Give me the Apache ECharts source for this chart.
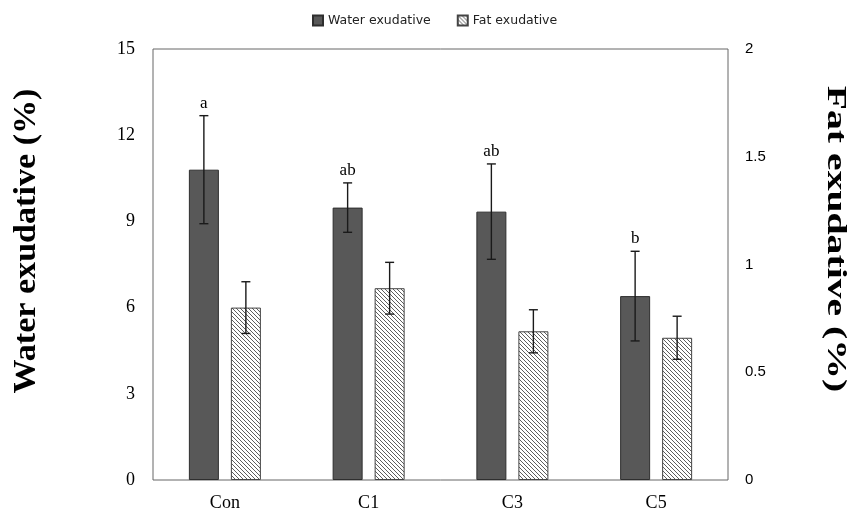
<!DOCTYPE html>
<html>
<head>
<meta charset="utf-8">
<script src="https://cdn.jsdelivr.net/npm/echarts@6/dist/echarts.min.js"></script>
<style>
html,body{margin:0;padding:0;background:#fff;}
#chart{width:850px;height:510px;}
</style>
</head>
<body>
<div id="chart"></div>
<script>
// ---- data ----
const categories = ['Con', 'C1', 'C3', 'C5'];
const waterMean = [10.8, 9.48, 9.34, 6.40];
const waterSD = [1.88, 0.86, 1.66, 1.56];
const fatMean = [0.80, 0.89, 0.69, 0.66];
const fatSD = [0.12, 0.12, 0.10, 0.10];
const letters = ['a', 'ab', 'ab', 'b'];
const leftAxis = { min: 0, max: 15, interval: 3, title: 'Water exudative (%)' };
const rightAxis = { min: 0, max: 2, interval: 0.5, title: 'Fat exudative (%)' };

// ---- style ----
const BAR_W = 30, BAR_GAP = 12;
const OFFSET = (BAR_W + BAR_GAP) / 2;

function makeHatch() {
  const c = document.createElement('canvas');
  c.width = 4; c.height = 4;
  const ctx = c.getContext('2d');
  ctx.fillStyle = '#ffffff';
  ctx.fillRect(0, 0, 4, 4);
  ctx.strokeStyle = '#5e5e5e';
  ctx.lineWidth = 1;
  [-4, 0, 4].forEach(k => {
    ctx.beginPath();
    ctx.moveTo(k, 0);
    ctx.lineTo(k + 4, 4);
    ctx.stroke();
  });
  return c;
}
const hatch = { image: makeHatch(), repeat: 'repeat' };

function errRender(sign, showLetters) {
  return function (params, api) {
    const i = api.value(0), m = api.value(1), sd = api.value(2);
    const top = api.coord([i, m + sd]);
    const bot = api.coord([i, m - sd]);
    const x = top[0] + sign * OFFSET;
    const cap = 4.5;
    const st = { stroke: '#1a1a1a', lineWidth: 1.4 };
    const children = [
      { type: 'line', shape: { x1: x, y1: top[1], x2: x, y2: bot[1] }, style: st },
      { type: 'line', shape: { x1: x - cap, y1: top[1], x2: x + cap, y2: top[1] }, style: st },
      { type: 'line', shape: { x1: x - cap, y1: bot[1], x2: x + cap, y2: bot[1] }, style: st }
    ];
    if (showLetters) {
      children.push({
        type: 'text',
        style: {
          text: letters[params.dataIndex], x: x, y: top[1] - 4,
          textAlign: 'center', textVerticalAlign: 'bottom',
          font: '17px "Liberation Serif", serif', fill: '#000'
        }
      });
    }
    return { type: 'group', children: children };
  };
}

const chart = echarts.init(document.getElementById('chart'));
chart.setOption({
  animation: false,
  backgroundColor: '#fff',
  legend: {
    data: ['Water exudative', 'Fat exudative'],
    left: 307, top: 9,
    icon: 'rect', itemWidth: 10, itemHeight: 10, itemGap: 26,
    textStyle: { fontFamily: '"DejaVu Sans", sans-serif', fontSize: 12.5, color: '#222' }
  },
  grid: {
    left: 153, right: 122, top: 49, bottom: 30,
    containLabel: false, outerBoundsMode: 'none',
    show: true, borderColor: '#666', borderWidth: 1
  },
  graphic: [
    {
      type: 'text', x: 27, y: 241, rotation: Math.PI / 2, scaleX: 1.1,
      style: {
        text: leftAxis.title, textAlign: 'center', textVerticalAlign: 'middle',
        font: 'bold 31px "Liberation Serif", serif', fill: '#000'
      }
    },
    {
      type: 'text', x: 835, y: 239, rotation: -Math.PI / 2, scaleX: 1.47,
      style: {
        text: rightAxis.title, textAlign: 'center', textVerticalAlign: 'middle',
        font: 'bold 27px "Liberation Serif", serif', fill: '#000'
      }
    }
  ],
  xAxis: {
    type: 'category', data: categories,
    axisLine: { show: false }, axisTick: { show: false }, splitLine: { show: false },
    axisLabel: { fontFamily: '"Liberation Serif", serif', fontSize: 18, color: '#000', margin: 14 }
  },
  yAxis: [
    {
      type: 'value', min: leftAxis.min, max: leftAxis.max, interval: leftAxis.interval,
      position: 'left',
      axisLine: { show: false }, axisTick: { show: false }, splitLine: { show: false },
      axisLabel: { fontFamily: '"Liberation Serif", serif', fontSize: 18, color: '#000', margin: 18 }
    },
    {
      type: 'value', min: rightAxis.min, max: rightAxis.max, interval: rightAxis.interval,
      position: 'right',
      axisLine: { show: false }, axisTick: { show: false }, splitLine: { show: false },
      axisLabel: { fontFamily: '"Liberation Sans", sans-serif', fontSize: 15, color: '#000', margin: 17 }
    }
  ],
  series: [
    {
      name: 'Water exudative', type: 'bar', yAxisIndex: 0,
      data: waterMean, barWidth: BAR_W, barGap: (BAR_GAP / BAR_W * 100) + '%',
      itemStyle: { color: '#585858', borderColor: '#2e2e2e', borderWidth: 1 }
    },
    {
      name: 'Fat exudative', type: 'bar', yAxisIndex: 1,
      data: fatMean, barWidth: BAR_W,
      itemStyle: { color: hatch, borderColor: '#444', borderWidth: 1 }
    },
    {
      type: 'custom', yAxisIndex: 0, z: 5,
      renderItem: errRender(-1, true),
      data: waterMean.map((m, i) => [i, m, waterSD[i]]),
      encode: { x: 0, y: 1 }
    },
    {
      type: 'custom', yAxisIndex: 1, z: 5,
      renderItem: errRender(1, false),
      data: fatMean.map((m, i) => [i, m, fatSD[i]]),
      encode: { x: 0, y: 1 }
    }
  ]
});
</script>
</body>
</html>
